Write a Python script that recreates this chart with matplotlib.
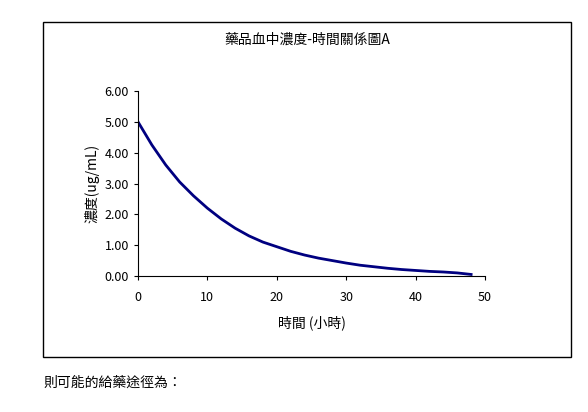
import matplotlib
matplotlib.use('Agg')
import matplotlib.pyplot as plt
from matplotlib.patches import Rectangle

plt.rcParams['font.family'] = ['Noto Sans CJK TC', 'DejaVu Sans']

# concentration readings
hours = [0, 2, 4, 6, 8, 10, 12, 14, 16, 18, 20, 22, 24,
         26, 28, 30, 32, 34, 36, 38, 40, 42, 44, 46, 48]
conc = [5.0, 4.25, 3.6, 3.05, 2.6, 2.2, 1.85, 1.55, 1.3, 1.1, 0.95, 0.8, 0.68,
        0.58, 0.5, 0.42, 0.35, 0.3, 0.25, 0.21, 0.18, 0.15, 0.13, 0.1, 0.05]
xticks = [0, 10, 20, 30, 40, 50]
yticks = [0, 1, 2, 3, 4, 5, 6]

fig = plt.figure(figsize=(5.88, 4.12), dpi=100)
fig.patches.append(Rectangle((43 / 588, 1 - 357 / 412), 528 / 588, 335 / 412,
                             transform=fig.transFigure, fill=False,
                             edgecolor='black', lw=1))

ax = fig.add_axes([138 / 588, 1 - 276 / 412, 347 / 588, 185 / 412])
ax.plot(hours, conc, color='#000080', lw=2)
ax.set_xlim(0, 50)
ax.set_ylim(0, 6)
ax.set_xticks(xticks)
ax.set_yticks(yticks)
ax.set_yticklabels([f'{v:.2f}' for v in yticks])
ax.tick_params(labelsize=9, direction='out', length=3)
ax.tick_params(axis='x', pad=8)
for s in ['top', 'right']:
    ax.spines[s].set_visible(False)
ax.set_xlabel('時間 (小時)', fontsize=10, labelpad=8)
ax.set_ylabel('濃度(ug/mL)', fontsize=10, labelpad=4)

fig.text(307 / 588, 1 - 40 / 412, '藥品血中濃度-時間關係圖A', ha='center',
         va='center', fontsize=10)
fig.text(43 / 588, 1 - 383 / 412, '則可能的給藥途徑為：', ha='left',
         va='center', fontsize=10)

fig.savefig('out.png', dpi=100)
